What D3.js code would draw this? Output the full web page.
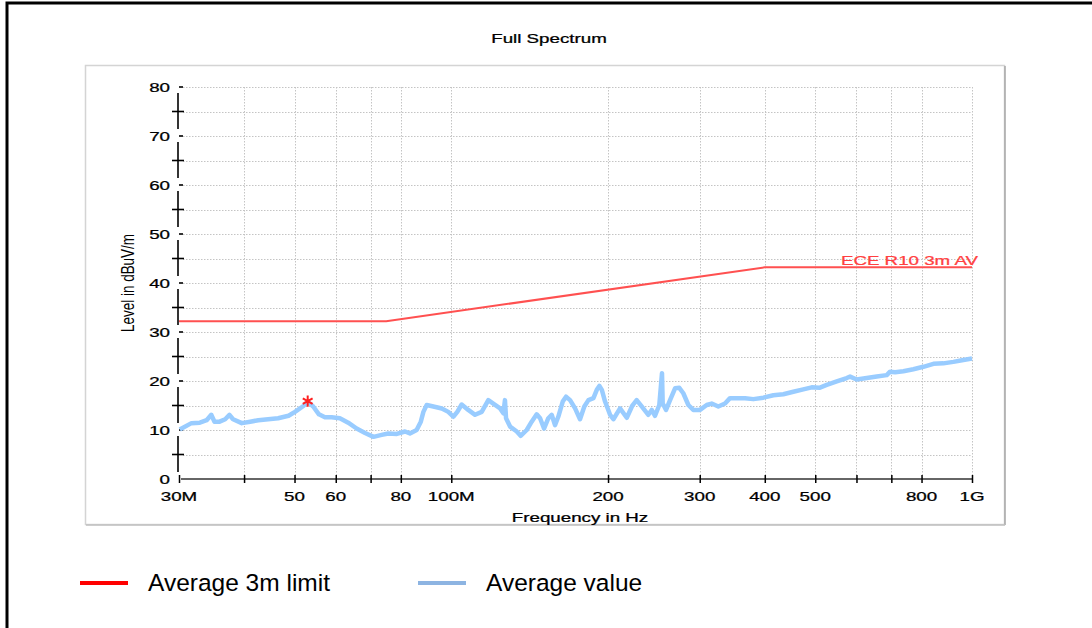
<!DOCTYPE html>
<html>
<head>
<meta charset="utf-8">
<script src="https://cdn.jsdelivr.net/npm/d3@7"></script>
<style>
  body { margin: 0; background: #fff; }
  svg { display: block; }
</style>
</head>
<body>
<script>
const W = 1092, H = 628;

// axis ticks
const xTickVals = [30, 40, 50, 60, 70, 80, 100, 200, 300, 400, 500, 600, 700, 800, 1000];
const xTickLabels = ['30M', '', '50', '60', '', '80', '100M', '200', '300', '400', '500', '', '', '800', '1G'];
const yTickVals = [0, 10, 20, 30, 40, 50, 60, 70, 80];
const yMinorVals = [5, 15, 25, 35, 45, 55, 65, 75];

// limit line (MHz, dBuV/m)
const limitFreq = [30, 75, 400, 1000];
const limitLevel = [32.2, 32.2, 43.2, 43.2];

// peak marker
const peakFreq = [53.0];
const peakLevel = [15.9];

// measured average trace
const avgFreq = [30.1, 31.7, 32.9, 33.9, 34.6, 35.1, 35.9, 36.8, 37.5, 38.1, 39.6, 41.1, 42.6, 44.5, 46.5, 48.7,
  50.1, 52.0, 53.0, 54.3, 55.7, 57.2, 58.9, 61.1, 63.4, 65.8, 68.3, 70.9, 73.5, 75.7, 78.6, 81.5, 83.3, 85.8,
  87.4, 88.4, 89.7, 92.4, 95.9, 98.7, 100.9, 102.7, 104.7, 107.8, 111.1, 114.4, 117.8, 120.4, 124.1, 125.9,
  126.8, 127.4, 129.7, 133.6, 135.9, 139.6, 142.7, 145.9, 148.1, 150.7, 153.6, 155.9, 158.2, 160.5, 163.7,
  166.1, 169.1, 172.9, 176.7, 180.1, 183.4, 187.5, 190.3, 192.5, 194.6, 197.4, 201.8, 204.8, 210.9, 217.3,
  222.5, 227.0, 232.1, 239.0, 242.6, 246.2, 250.9, 253.9, 254.7, 258.5, 263.1, 269.0, 274.1, 279.0, 285.3,
  291.6, 300.4, 309.4, 316.3, 325.7, 335.5, 343.0, 355.8, 366.5, 380.2, 397.5, 415.5, 434.2, 453.8, 474.3,
  492.2, 509.1, 526.1, 549.9, 574.6, 583.2, 600.6, 627.8, 656.3, 685.9, 696.1, 711.7, 738.1, 771.6, 806.5,
  843.1, 881.2, 920.8, 962.5, 1000];
const avgLevel = [10.1, 11.4, 11.5, 12.0, 13.1, 11.7, 11.7, 12.2, 13.1, 12.2, 11.4, 11.7, 12.0, 12.2, 12.4, 12.9,
  13.7, 14.9, 15.8, 14.8, 13.2, 12.6, 12.6, 12.4, 11.5, 10.3, 9.4, 8.6, 9.0, 9.3, 9.2, 9.7, 9.3, 10.0,
  11.7, 13.7, 15.1, 14.8, 14.4, 13.7, 12.7, 13.7, 15.2, 14.1, 13.1, 13.7, 16.1, 15.4, 14.4, 13.4,
  16.1, 12.4, 10.7, 9.7, 8.8, 10.0, 11.7, 13.2, 12.4, 10.3, 12.4, 13.1, 11.0, 12.7, 15.8,
  16.8, 16.1, 14.4, 12.2, 14.8, 16.1, 16.5, 18.2, 19.0, 18.2, 15.8, 13.1, 12.2, 14.4, 12.5,
  14.9, 16.1, 14.8, 13.1, 14.1, 12.9, 15.1, 21.6, 15.4, 14.1, 16.1, 18.5, 18.6, 17.5, 15.1,
  14.1, 14.1, 15.1, 15.4, 14.8, 15.4, 16.5, 16.5, 16.5, 16.3, 16.6, 17.1, 17.3, 17.8, 18.3,
  18.7, 18.6, 19.2, 19.9, 20.6, 20.9, 20.3, 20.6, 20.9, 21.2, 21.9, 21.8, 22.0, 22.4, 22.9,
  23.5, 23.6, 23.9, 24.3, 24.6];

const svg = d3.select('body').append('svg')
  .attr('width', W)
  .attr('height', H);

const x = d3.scaleLog().domain([30, 1000]).range([179, 972]);
const y = d3.scaleLinear().domain([0, 80]).range([479, 87]);

const FONT = '"Liberation Sans", Arial, sans-serif';

// stretched chart text (the original picture is widened)
function stext(px, py, str, anchor, color) {
  return svg.append('text')
    .attr('transform', `translate(${px},${py}) scale(1.5,1)`)
    .attr('text-anchor', anchor || 'middle')
    .attr('font-family', FONT)
    .attr('font-size', '12.5px')
    .attr('fill', color || '#000')
    .attr('stroke', color || '#000')
    .attr('stroke-width', 0.25)
    .text(str);
}

// outer frame
svg.append('rect')
  .attr('x', 7).attr('y', 3)
  .attr('width', 1200).attr('height', 800)
  .attr('fill', 'none')
  .attr('stroke', '#000')
  .attr('stroke-width', 3);

// chart panel
svg.append('rect')
  .attr('x', 85.5).attr('y', 65.5)
  .attr('width', 919).attr('height', 459)
  .attr('fill', '#fff')
  .attr('stroke', '#d4d4d4')
  .attr('stroke-width', 1.5);
svg.append('line')
  .attr('x1', 1005).attr('x2', 1005).attr('y1', 66).attr('y2', 525)
  .attr('stroke', '#a8a8a8').attr('stroke-width', 1.5);
svg.append('line')
  .attr('x1', 86).attr('x2', 1005).attr('y1', 525).attr('y2', 525)
  .attr('stroke', '#c0c0c0').attr('stroke-width', 1.5);

stext(549, 43, 'Full Spectrum');

// grid
const grid = svg.append('g')
  .attr('stroke', '#c4c4c4')
  .attr('stroke-width', 1)
  .attr('stroke-dasharray', '1.5,1.5');
grid.selectAll('.hg')
  .data(yMinorVals.concat(yTickVals.filter(d => d > 0)))
  .enter().append('line')
  .attr('x1', 183).attr('x2', 972)
  .attr('y1', d => Math.round(y(d)) + 0.5)
  .attr('y2', d => Math.round(y(d)) + 0.5);
grid.selectAll('.vg')
  .data(xTickVals.slice(1))
  .enter().append('line')
  .attr('x1', d => Math.round(x(d)) + 0.5)
  .attr('x2', d => Math.round(x(d)) + 0.5)
  .attr('y1', 87).attr('y2', 479);

// x axis
const xAxis = svg.append('g')
  .attr('transform', 'translate(0,479)')
  .call(d3.axisBottom(x).tickValues(xTickVals).tickSize(4).tickFormat(''));
xAxis.select('.domain').attr('d', 'M181,0H972').attr('stroke', '#333').attr('stroke-width', 1.6);
xAxis.selectAll('.tick line').attr('y1', -4).attr('stroke', '#000').attr('stroke-width', 1.5);
xTickVals.forEach((v, i) => {
  if (xTickLabels[i]) stext(x(v), 501, xTickLabels[i]);
});

// y axis: broken vertical line with crosses at the half steps
const yAx = svg.append('g').attr('stroke', '#000').attr('stroke-width', 1.6);
yTickVals.slice(0, -1).forEach(v => {
  yAx.append('line')
    .attr('x1', 178).attr('x2', 178)
    .attr('y1', y(v + 10) + 6).attr('y2', y(v) - 7);
});
yAx.selectAll('.minor')
  .data(yMinorVals)
  .enter().append('line')
  .attr('x1', 172).attr('x2', 184)
  .attr('y1', d => y(d)).attr('y2', d => y(d));
yAx.selectAll('.major')
  .data(yTickVals.slice(1))
  .enter().append('line')
  .attr('x1', 179).attr('x2', 183)
  .attr('y1', d => y(d)).attr('y2', d => y(d));
yTickVals.forEach(v => stext(170, y(v) + 4.5, String(v), 'end'));

svg.append('text')
  .attr('transform', `translate(134,${(y(0) + y(80)) / 2}) scale(1.4,1) rotate(-90)`)
  .attr('text-anchor', 'middle')
  .attr('font-family', FONT)
  .attr('font-size', '13.5px')
  .text('Level in dBuV/m');

stext(580, 522, 'Frequency in Hz');

// limit line
const line = d3.line().x(d => x(d[0])).y(d => y(d[1]));
svg.append('path')
  .datum(limitFreq.map((f, i) => [f, limitLevel[i]]))
  .attr('d', line)
  .attr('fill', 'none')
  .attr('stroke', '#ff5050')
  .attr('stroke-width', 2);
stext(978, 265, 'ECE R10 3m AV', 'end', '#ff4040');

// measured trace
svg.append('path')
  .datum(avgFreq.map((f, i) => [f, avgLevel[i]]))
  .attr('d', line)
  .attr('fill', 'none')
  .attr('stroke', '#99ccff')
  .attr('stroke-width', 4.5)
  .attr('stroke-linejoin', 'round');

// peak marker
svg.selectAll('.peak')
  .data(peakFreq.map((f, i) => [f, peakLevel[i]]))
  .enter().append('path')
  .attr('transform', d => `translate(${x(d[0])},${y(d[1])})`)
  .attr('d', d3.symbol(d3.symbolAsterisk, 90))
  .attr('fill', 'none')
  .attr('stroke', '#ff2020')
  .attr('stroke-width', 2);

// legend
const legend = [
  { label: 'Average 3m limit', color: '#ff0000', x0: 80 },
  { label: 'Average value', color: '#8db4e2', x0: 418 }
];
legend.forEach(d => {
  svg.append('line')
    .attr('x1', d.x0).attr('x2', d.x0 + 48)
    .attr('y1', 583).attr('y2', 583)
    .attr('stroke', d.color)
    .attr('stroke-width', 4);
  svg.append('text')
    .attr('x', d.x0 + 68).attr('y', 591)
    .attr('font-family', FONT)
    .attr('font-size', '24.5px')
    .text(d.label);
});
</script>
</body>
</html>
